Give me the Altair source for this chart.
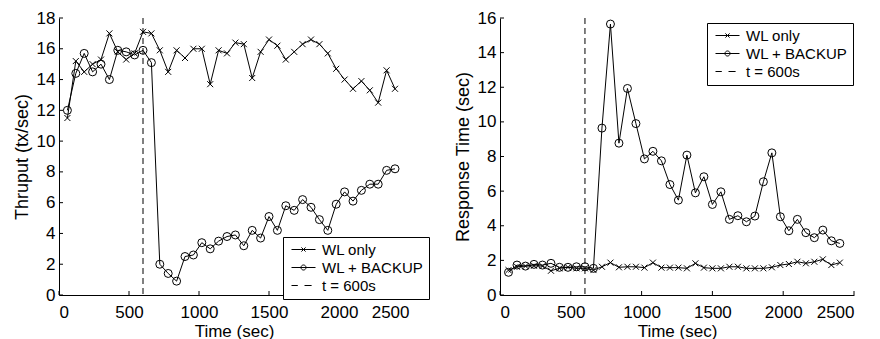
import altair as alt
import pandas as pd

# ---- data ----
times = [60, 120, 180, 240, 300, 360, 420, 480, 540, 600,
         660, 720, 780, 840, 900, 960, 1020, 1080, 1140, 1200,
         1260, 1320, 1380, 1440, 1500, 1560, 1620, 1680, 1740, 1800,
         1860, 1920, 1980, 2040, 2100, 2160, 2220, 2280, 2340, 2400]

thru_wl = [11.5, 15.2, 14.5, 15.0, 15.3, 17.0, 15.8, 15.3, 15.7, 17.1,
           17.0, 15.9, 14.5, 15.9, 15.4, 16.0, 16.0, 13.7, 15.9, 15.7,
           16.4, 16.3, 14.1, 15.8, 16.6, 16.2, 15.3, 15.8, 16.3, 16.6,
           16.3, 15.7, 14.7, 14.0, 13.4, 13.9, 13.3, 12.5, 14.6, 13.4]
thru_bk = [12.0, 14.4, 15.7, 14.5, 15.0, 14.0, 15.9, 15.8, 15.6, 15.9,
           15.1, 2.0, 1.4, 0.9, 2.5, 2.6, 3.4, 3.0, 3.5, 3.8,
           3.9, 3.2, 4.2, 3.7, 5.1, 4.2, 5.8, 5.5, 6.2, 5.7,
           4.9, 4.2, 5.9, 6.7, 6.1, 6.8, 7.2, 7.2, 8.1, 8.2]

resp_wl = [1.44, 1.63, 1.67, 1.69, 1.67, 1.40, 1.54, 1.60, 1.54, 1.54,
           1.44, 1.63, 1.87, 1.60, 1.63, 1.63, 1.58, 1.87, 1.58, 1.58,
           1.58, 1.54, 1.83, 1.58, 1.54, 1.54, 1.63, 1.63, 1.54, 1.54,
           1.54, 1.60, 1.73, 1.79, 1.92, 1.83, 1.92, 2.06, 1.73, 1.87]
resp_bk = [1.31, 1.73, 1.67, 1.77, 1.73, 1.83, 1.60, 1.60, 1.63, 1.63,
           1.54, 9.64, 15.65, 8.77, 11.93, 9.90, 7.86, 8.30, 7.75, 6.38,
           5.48, 8.08, 5.90, 6.83, 5.23, 5.96, 4.37, 4.58, 4.23, 4.56,
           6.54, 8.21, 4.52, 3.71, 4.37, 3.60, 3.31, 3.75, 3.13, 2.98]

series_names = ["WL only", "WL + BACKUP", "t = 600s"]
event_time = [600]
x_ticks = [0, 500, 1000, 1500, 2000, 2500]
y_ticks_left = [0, 2, 4, 6, 8, 10, 12, 14, 16, 18]
y_ticks_right = [0, 2, 4, 6, 8, 10, 12, 14, 16]

FONT = "Liberation Sans"
XPATH = "M-1,-1L1,1M-1,1L1,-1"
LEG_PATHS = [
    "M-2,0L2,0M-0.35,-0.35L0.35,0.35M-0.35,0.35L0.35,-0.35",
    "M-2,0L2,0M-0.42,0A0.42,0.42,0,1,1,0.42,0A0.42,0.42,0,1,1,-0.42,0",
    "M-2,0L-0.95,0M0.17,0L1.35,0",
]


def panel(wl, bk, ymax, yticks, ytitle, width, height, lx, ly):
    df = pd.DataFrame({
        "time": times + times,
        "value": wl + bk,
        "series": [series_names[0]] * len(times) + [series_names[1]] * len(times),
    })
    xs = alt.Scale(domain=[0, 2500], nice=False)
    ys = alt.Scale(domain=[0, ymax], nice=False)
    xax = alt.Axis(values=x_ticks, title="Time (sec)", format="d",
                   titleFontWeight="normal", titleFont=FONT, titleFontSize=17)
    yax = alt.Axis(values=yticks, title=ytitle, format="d",
                   titleFontWeight="normal", titleFont=FONT, titleFontSize=18)
    X = alt.X("time:Q", scale=xs, axis=xax)
    Y = alt.Y("value:Q", scale=ys, axis=yax)

    ev = alt.Chart(pd.DataFrame({"time": event_time})).mark_rule(
        color="black", strokeWidth=1, strokeDash=[6, 4]
    ).encode(x=alt.X("time:Q", scale=xs, axis=xax))

    line = alt.Chart(df).mark_line(color="black", strokeWidth=1).encode(
        x=X, y=Y, detail="series:N")

    p_wl = alt.Chart(df).transform_filter(alt.datum.series == series_names[0]).mark_point(
        shape=XPATH, size=36, filled=False, color="black", strokeWidth=1, opacity=1
    ).encode(x=X, y=Y)
    p_bk = alt.Chart(df).transform_filter(alt.datum.series == series_names[1]).mark_point(
        shape="circle", size=64, filled=False, color="black", strokeWidth=1, opacity=1
    ).encode(x=X, y=Y)

    xt = alt.Chart(pd.DataFrame({"time": x_ticks})).mark_rule(color="black", strokeWidth=1).encode(
        x=alt.X("time:Q", scale=xs, axis=xax), y=alt.value(height), y2=alt.value(height - 4))
    yt = alt.Chart(pd.DataFrame({"value": yticks})).mark_rule(color="black", strokeWidth=1).encode(
        y=alt.Y("value:Q", scale=ys, axis=yax), x=alt.value(0), x2=alt.value(4))

    leg = alt.Chart(pd.DataFrame({"series": series_names})).transform_filter("false").mark_point(
        filled=False, color="black", strokeWidth=1, opacity=1
    ).encode(
        shape=alt.Shape("series:N",
                        scale=alt.Scale(domain=series_names, range=LEG_PATHS),
                        legend=alt.Legend(
                            title=None, orient="none", legendX=lx, legendY=ly,
                            strokeColor="black", fillColor="white", padding=5,
                            labelFont=FONT, labelFontSize=15, labelColor="black",
                            symbolSize=144, symbolOffset=8, labelOffset=11,
                            rowPadding=2, symbolStrokeWidth=1,
                            symbolStrokeColor="black", cornerRadius=0))
    )

    return alt.layer(ev, line, p_wl, p_bk, xt, yt, leg).properties(width=width, height=height)


left = panel(thru_wl, thru_bk, 18, y_ticks_left, "Thruput (tx/sec)", 350, 277, 224, 219)
right = panel(resp_wl, resp_bk, 16, y_ticks_right, "Response Time (sec)", 354, 277, 207, 5)

chart = alt.hconcat(left, right, spacing=24).resolve_scale(
    x="independent", y="independent", shape="independent"
).resolve_legend(shape="independent").configure(
    style={"guide-title": {"fontWeight": "normal", "font": FONT}}
).configure_axis(
    labelFont=FONT, titleFont=FONT, labelFontSize=17,
    titleFontWeight="normal", labelColor="black", titleColor="black",
    domainColor="black", domainWidth=1, grid=False, ticks=False, tickSize=0,
    labelPadding=6,
).configure_axisX(labelPadding=9, titlePadding=3).configure_axisY(
    labelPadding=4, titlePadding=5
).configure_view(strokeOpacity=0).properties(
    padding={"left": 5, "top": 1, "right": 5, "bottom": 5}
)

chart.save("out.html", embed_options={"renderer": "svg", "actions": False})
